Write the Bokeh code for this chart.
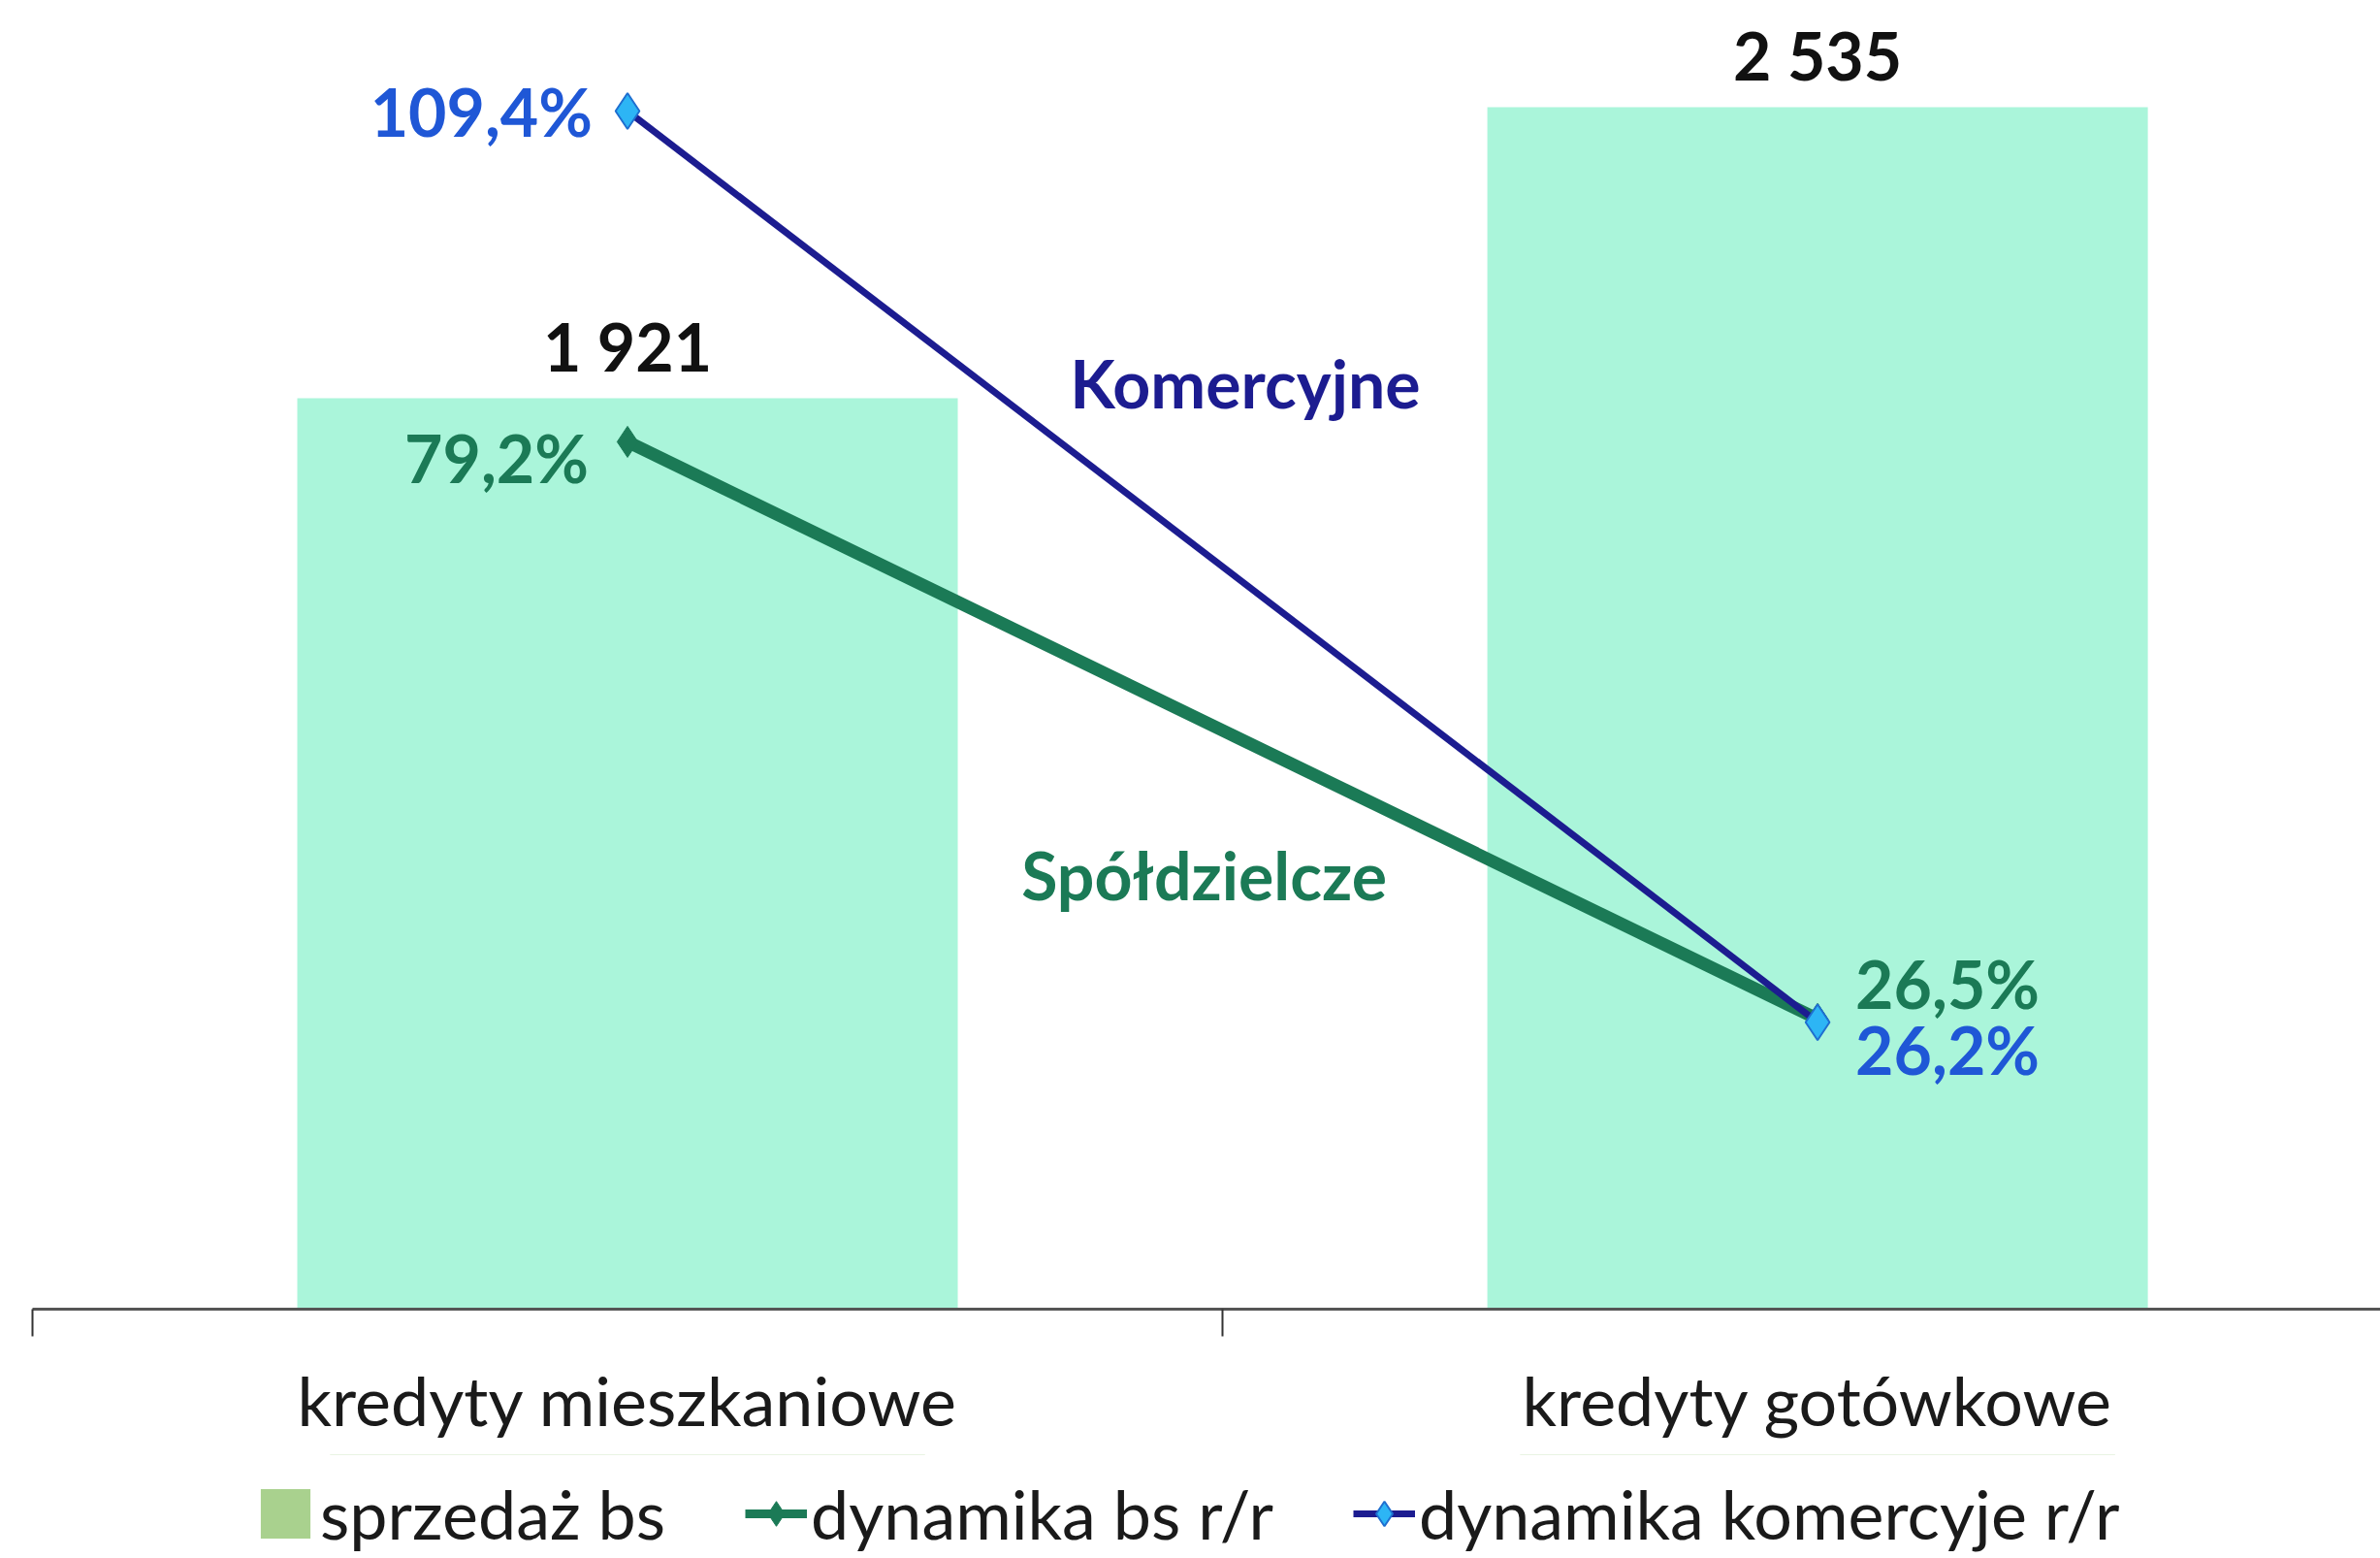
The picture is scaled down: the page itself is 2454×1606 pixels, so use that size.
from bokeh.plotting import figure
from bokeh.layouts import column
from bokeh.models import (Range1d, FixedTicker, ColumnDataSource, Label, Legend,
                          LegendItem, LinearAxis)
from bokeh.core.properties import value
from bokeh.embed import file_html
from bokeh.resources import INLINE

# ---------------- data ----------------
categories = ["kredyty mieszkaniowe", "kredyty gotówkowe"]
sales_bs = [1921, 2535]
dyn_bs = [79.2, 26.5]
dyn_kom = [109.4, 26.2]
legend_labels = ["sprzedaż bs", "dynamika bs r/r", "dynamika komercyje r/r"]
series_names = ["Komercyjne", "Spółdzielcze"]

# ---------------- style ----------------
FONT = "Lato"
BAR = "#AAF5DA"
BAR_LEG = "#A9D18E"
GREEN = "#1B7A56"
NAVY = "#1C1C90"
LBLUE = "#2DB5F5"
BLUE_EDGE = "#1F6FD0"
BLUE_TXT = "#1F57D6"
REG = "70px"
BOLD = "68px"

xpos = list(range(len(categories)))

p = figure(width=2454, height=1499, output_backend="svg", toolbar_location=None,
           x_range=Range1d(-0.5, 1.473), y_range=Range1d(0, 2760),
           x_axis_type=None, y_axis_type=None,
           min_border_left=33, min_border_right=0, min_border_top=0,
           min_border_bottom=150)
p.extra_y_ranges = {"pct": Range1d(0, 119.5)}
p.outline_line_color = None
p.background_fill_color = "white"
p.border_fill_color = "white"

# bars
bars_src = ColumnDataSource(dict(
    x=xpos, top=sales_bs,
    lab=[f"{v:,}".replace(",", " ") for v in sales_bs]))
p.vbar(x="x", top="top", width=0.555, source=bars_src, fill_color=BAR, line_color=None)
p.text(x="x", y="top", text="lab", source=bars_src, text_align="center",
       text_baseline="alphabetic", y_offset=-54, text_font=value(FONT),
       text_font_size=BOLD, text_font_style="bold", text_color="#111111")

# lines
src_bs = ColumnDataSource(dict(x=xpos, y=dyn_bs,
                               lab=[f"{v:.1f}".replace(".", ",") + "%" for v in dyn_bs]))
src_kom = ColumnDataSource(dict(x=xpos, y=dyn_kom,
                                lab=[f"{v:.1f}".replace(".", ",") + "%" for v in dyn_kom]))

p.line("x", "y", source=src_bs, y_range_name="pct", line_color=GREEN, line_width=13)
p.scatter("x", "y", source=src_bs, y_range_name="pct", marker="diamond",
          size=32, fill_color=GREEN, line_color=GREEN)
p.line("x", "y", source=src_kom, y_range_name="pct", line_color=NAVY, line_width=7)
p.scatter("x", "y", source=src_kom, y_range_name="pct", marker="diamond",
          size=37, fill_color=LBLUE, line_color=BLUE_EDGE, line_width=2)

# percentage labels
bs_xoff = [-40, 39]
bs_yoff = [16, -37]
bs_align = ["right", "left"]
kom_xoff = [-36, 39]
kom_yoff = [0, 28]
kom_align = ["right", "left"]
src_bs.data.update(xo=bs_xoff, yo=bs_yoff, al=bs_align)
src_kom.data.update(xo=kom_xoff, yo=kom_yoff, al=kom_align)
p.text(x="x", y="y", text="lab", source=src_bs, y_range_name="pct", x_offset="xo",
       y_offset="yo", text_align="al", text_baseline="alphabetic", text_font=value(FONT),
       text_font_size=BOLD, text_font_style="bold", text_color=GREEN)
p.text(x="x", y="y", text="lab", source=src_kom, y_range_name="pct", x_offset="xo",
       y_offset="yo", text_align="al", text_baseline="alphabetic", text_font=value(FONT),
       text_font_size=BOLD, text_font_style="bold", text_color=BLUE_TXT)

# series annotations
p.add_layout(Label(x=0.519, y=84.6, y_range_name="pct", text=series_names[0],
                   text_align="center", text_baseline="middle", text_font=FONT,
                   text_font_size=BOLD, text_font_style="bold", text_color=NAVY))
p.add_layout(Label(x=0.4845, y=39.7, y_range_name="pct", text=series_names[1],
                   text_align="center", text_baseline="middle", text_font=FONT,
                   text_font_size=BOLD, text_font_style="bold", text_color=GREEN))

# x axis: category labels at centres, ticks at boundaries
ax = LinearAxis(
    ticker=FixedTicker(ticks=xpos, minor_ticks=[i - 0.5 for i in range(len(categories) + 1)]),
    major_label_overrides={i: c for i, c in enumerate(categories)},
    major_tick_out=0, major_tick_in=0, minor_tick_out=28, minor_tick_in=0,
    axis_line_color="#555555", axis_line_width=3,
    minor_tick_line_color="#333333", minor_tick_line_width=2,
    major_label_text_font=FONT, major_label_text_font_size=REG,
    major_label_text_color="#1a1a1a", major_label_standoff=23)
p.add_layout(ax, "below")

# ---------------- legend strip ----------------
lg = figure(width=2454, height=107, output_backend="svg", toolbar_location=None,
            x_range=Range1d(-0.5, 1.473), y_range=Range1d(-2, -1),
            x_axis_type=None, y_axis_type=None,
            min_border_left=0, min_border_right=0, min_border_top=0, min_border_bottom=0)
lg.outline_line_color = None
lg.border_fill_color = "white"
# proxies drawn from the same data; the strip's y-range keeps them out of view
r_bar = lg.vbar(x=xpos, top=sales_bs, width=0.5, fill_color=BAR_LEG, line_color=None)
r_gl = lg.line(xpos, dyn_bs, line_color=GREEN, line_width=9)
r_gp = lg.scatter(xpos, dyn_bs, marker="diamond", size=30, fill_color=GREEN, line_color=GREEN)
r_bl = lg.line(xpos, dyn_kom, line_color=NAVY, line_width=7)
r_bp = lg.scatter(xpos, dyn_kom, marker="diamond", size=30, fill_color=LBLUE,
                  line_color=BLUE_EDGE, line_width=2)
legend = Legend(items=[
    LegendItem(label=legend_labels[0], renderers=[r_bar]),
    LegendItem(label=legend_labels[1], renderers=[r_gl, r_gp]),
    LegendItem(label=legend_labels[2], renderers=[r_bl, r_bp]),
], orientation="horizontal", location=(229, 4), label_text_font=FONT,
    label_text_font_size=REG, label_text_color="#1a1a1a", glyph_width=64,
    glyph_height=64, label_standoff=4, spacing=82, padding=0, margin=0,
    border_line_color=None, background_fill_alpha=0)
lg.add_layout(legend, "center")

layout = column(p, lg, spacing=0)
open("out.html", "w").write(file_html(layout, INLINE))
